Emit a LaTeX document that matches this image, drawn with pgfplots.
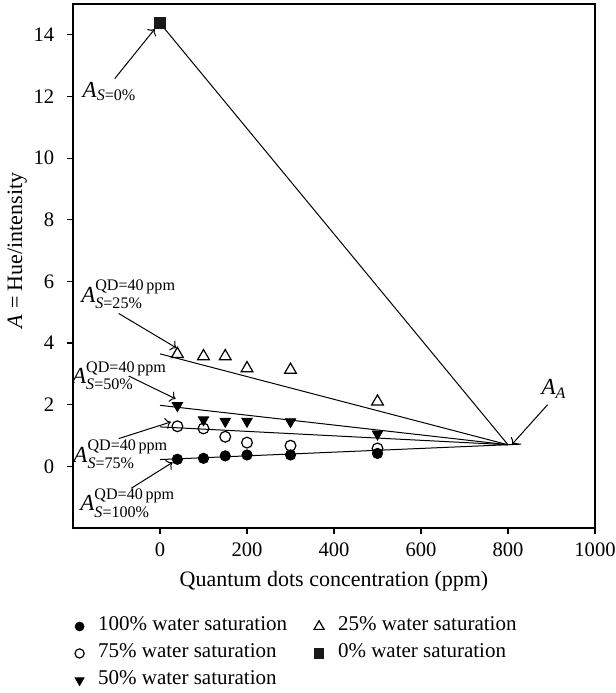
\documentclass[border=0pt]{standalone}
\usepackage{fontspec}
\setmainfont{Liberation Serif}
\usepackage{amsmath}
\usepackage{pgfplots}
\pgfplotsset{compat=1.18}
\usetikzlibrary{calc,arrows.meta}

\newcommand{\lab}[1]{$\text{\itshape A}^{\text{QD=40\,ppm}}_{\text{\itshape S\/\upshape=#1\%}}$}

\begin{document}
\fontsize{9.5bp}{11bp}\selectfont
\begin{tikzpicture}
\begin{axis}[
    scale only axis,
    width=261bp, height=262bp,
    xmin=-200, xmax=1000, ymin=-2, ymax=15,
    xtick={0,200,...,1000}, ytick={0,2,...,14},
    tick align=outside, xtick pos=left, ytick pos=left,
    major tick length=3bp,
    axis line style={line width=0.6bp},
    tick style={line width=0.6bp, black},
    /pgf/number format/assume math mode=true,
    /pgf/number format/1000 sep={},
    tick label style={font=\fontsize{10.3bp}{12bp}\selectfont},
    yticklabel style={xshift=-3bp},
    xticklabel style={yshift=-1bp},
    xlabel={Quantum dots concentration (ppm)},
    ylabel={\textit{A} = Hue/intensity},
    every axis x label/.style={at={(axis description cs:0.5,0)}, anchor=center, yshift=-26.5bp,
        font=\fontsize{11bp}{13bp}\selectfont},
    every axis y label/.style={at={(axis description cs:-0.107,0.53)}, rotate=90, anchor=center,
        font=\fontsize{11bp}{13bp}\selectfont},
    legend columns=2,
    legend cell align=left,
    legend image code/.code={\draw[mark repeat=2,mark phase=2,every mark/.append style={scale=0.85}] plot coordinates {(0bp,0bp)(4bp,0bp)(8bp,0bp)};},
    legend style={at={(axis description cs:0,0)}, anchor=north west, yshift=-42.5bp, xshift=1bp,
        draw=none, fill=none, inner sep=0pt, outer sep=0pt,
        font=\fontsize{10.5bp}{12bp}\selectfont,
        nodes={text height=7bp, text depth=2.5bp},
        /tikz/column 1/.style={column sep=5bp},
        /tikz/column 2/.style={column sep=11.5bp},
        /tikz/column 3/.style={column sep=5bp}},
]
% fitted lines towards A_A
\addplot[black, line width=0.5bp, forget plot] coordinates {(0,14.38)(800,0.70)};
\addplot[black, line width=0.5bp, forget plot] coordinates {(0,3.65)(800,0.70)};
\addplot[black, line width=0.5bp, forget plot] coordinates {(0,1.98)(800,0.70)};
\addplot[black, line width=0.5bp, forget plot] coordinates {(0,1.28)(800,0.70)};
\addplot[black, line width=0.5bp, forget plot] coordinates {(0,0.22)(830,0.72)};

% data
\addplot[only marks, mark=*, mark size=2.6bp, black] coordinates {
    (40,0.23)(100,0.26)(150,0.34)(200,0.37)(300,0.37)(500,0.42)};
\addplot[only marks, mark=triangle, mark size=3.4bp, black, mark options={line width=0.6bp}] coordinates {
    (40,3.64)(100,3.57)(150,3.57)(200,3.18)(300,3.13)(500,2.10)};
\addplot[only marks, mark=o, mark size=2.7bp, black, mark options={line width=0.6bp}] coordinates {
    (40,1.30)(100,1.23)(150,0.96)(200,0.77)(300,0.67)(500,0.58)};
\addplot[only marks, mark=square*, mark size=2.7bp, black!90] coordinates {(0,14.38)};
\addplot[only marks, mark=triangle*, mark size=3bp, black, mark options={rotate=180}] coordinates {
    (40,1.97)(100,1.51)(150,1.46)(200,1.46)(300,1.45)(500,1.05)};
\legend{100\% water saturation, 25\% water saturation, 75\% water saturation, 0\% water saturation, 50\% water saturation}

% annotations
\draw[->, line width=0.5bp] (axis cs:-104,12.58) -- (axis cs:-12,14.19);
\node[font=\fontsize{11.5bp}{13bp}\selectfont] at (axis cs:-116,12.16) {$\text{\itshape A}_{\text{\itshape S\/\upshape=0\%}}$};
\draw[->, line width=0.5bp] (axis cs:891,2.0) -- (axis cs:809,0.71);
\node[font=\fontsize{11.5bp}{13bp}\selectfont] at (axis cs:906,2.52) {$\text{\itshape A}_{\text{\itshape A}}$};
\draw[->, line width=0.5bp] (axis cs:-95,4.96) -- (axis cs:38,3.84);
\node[font=\fontsize{11.5bp}{13bp}\selectfont] at (axis cs:-72,5.58) {\lab{25}};
\draw[->, line width=0.5bp] (axis cs:-72,2.93) -- (axis cs:36,2.19);
\node[font=\fontsize{11.5bp}{13bp}\selectfont] at (axis cs:-93,2.94) {\lab{50}};
\draw[->, line width=0.5bp] (axis cs:-95,0.90) -- (axis cs:25,1.44);
\node[font=\fontsize{11.5bp}{13bp}\selectfont] at (axis cs:-90,0.39) {\lab{75}};
\draw[->, line width=0.5bp] (axis cs:-66,-0.71) -- (axis cs:29,0.13);
\node[font=\fontsize{11.5bp}{13bp}\selectfont] at (axis cs:-74,-1.19) {\lab{100}};
\end{axis}
\pgfresetboundingbox
\path[use as bounding box] ($(current axis.south west)+(-36.5bp,-82.5bp)$) rectangle ($(current axis.north east)+(10.5bp,2bp)$);
\end{tikzpicture}
\end{document}
